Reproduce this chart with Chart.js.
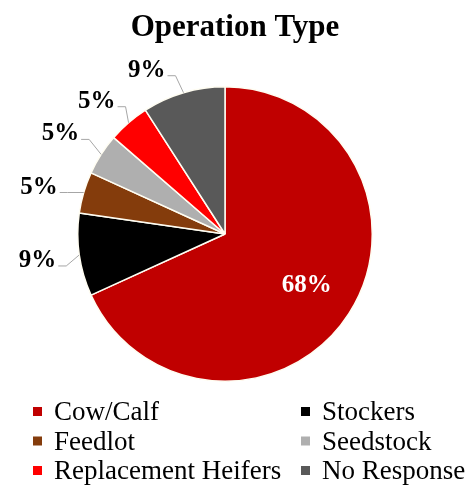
<!DOCTYPE html>
<html>
<head>
<meta charset="utf-8">
<script src="https://cdn.jsdelivr.net/npm/chart.js@4/dist/chart.umd.min.js"></script>
<style>
  html, body { margin: 0; padding: 0; background: #fff; }
  canvas { display: block; }
</style>
</head>
<body>
<canvas id="chart" width="472" height="485"></canvas>
<script>
// operation type survey, counts (22 responses)
const categories = ['Cow/Calf', 'Stockers', 'Feedlot', 'Seedstock', 'Replacement Heifers', 'No Response'];
const counts = [15, 2, 1, 1, 1, 2];
const sliceColors = ['#C00000', '#000000', '#843C0C', '#AFAFAF', '#FF0000', '#595959'];
const chartTitle = 'Operation Type';

const serif = '"Liberation Serif", "Times New Roman", serif';

// where each outside label sits relative to its slice's outer mid point (right edge, baseline)
const labelNudge = [null, [-23, 12], [-26, 1], [-22, -14], [-13, -15], [-18, -16]];

function pctText(i) {
  const total = counts.reduce((a, b) => a + b, 0);
  return Math.round(counts[i] / total * 100) + '%';
}

// title, data labels with leader lines, two-column legend
const decorations = {
  id: 'decorations',
  afterDatasetsDraw(chart) {
    const ctx = chart.ctx;
    const arcs = chart.getDatasetMeta(0).data;
    ctx.save();
    ctx.font = 'bold 25px ' + serif;
    arcs.forEach((arc, i) => {
      const p = arc.getProps(['x', 'y', 'startAngle', 'endAngle', 'outerRadius'], true);
      const mid = (p.startAngle + p.endAngle) / 2;
      const R = p.outerRadius;
      if (i === 0) {
        ctx.fillStyle = '#fff';
        ctx.textAlign = 'center';
        ctx.textBaseline = 'middle';
        ctx.fillText(pctText(i), p.x + Math.cos(mid) * R * 0.66, p.y + Math.sin(mid) * R * 0.65);
        return;
      }
      const mx = p.x + Math.cos(mid) * R;
      const my = p.y + Math.sin(mid) * R;
      const right = mx + labelNudge[i][0];
      const base = my + labelNudge[i][1];
      ctx.fillStyle = '#000';
      ctx.textAlign = 'right';
      ctx.textBaseline = 'alphabetic';
      ctx.fillText(pctText(i), right, base);
      // leader line
      ctx.strokeStyle = '#A6A6A6';
      ctx.lineWidth = 1;
      ctx.beginPath();
      ctx.moveTo(right + 2, base - 1);
      ctx.lineTo(Math.min(right + 10, mx), base - 1);
      ctx.lineTo(mx, my);
      ctx.stroke();
    });
    ctx.restore();
  },
  afterDraw(chart) {
    const ctx = chart.ctx;
    ctx.save();
    ctx.fillStyle = '#000';
    ctx.font = 'bold 31px ' + serif;
    ctx.textAlign = 'center';
    ctx.textBaseline = 'alphabetic';
    ctx.fillText(chartTitle, 235, 36);

    ctx.font = '27px ' + serif;
    ctx.textAlign = 'left';
    const colX = [33, 301];
    const rowY = [420, 449.5, 479];
    categories.forEach((name, i) => {
      const x = colX[i % 2];
      const y = rowY[Math.floor(i / 2)];
      ctx.fillStyle = sliceColors[i];
      ctx.fillRect(x, y - 13, 9, 9);
      ctx.fillStyle = '#000';
      ctx.fillText(name, x + 21, y);
    });
    ctx.restore();
  }
};

new Chart(document.getElementById('chart').getContext('2d'), {
  type: 'pie',
  data: {
    labels: categories,
    datasets: [{
      data: counts,
      backgroundColor: sliceColors,
      borderColor: '#FFFDF2',
      borderWidth: 1.5
    }]
  },
  options: {
    responsive: false,
    animation: false,
    devicePixelRatio: 1,
    layout: { padding: { left: 77, top: 86, right: 99, bottom: 103 } },
    plugins: {
      legend: { display: false },
      title: { display: false },
      tooltip: { enabled: false }
    }
  },
  plugins: [decorations]
});
</script>
</body>
</html>
